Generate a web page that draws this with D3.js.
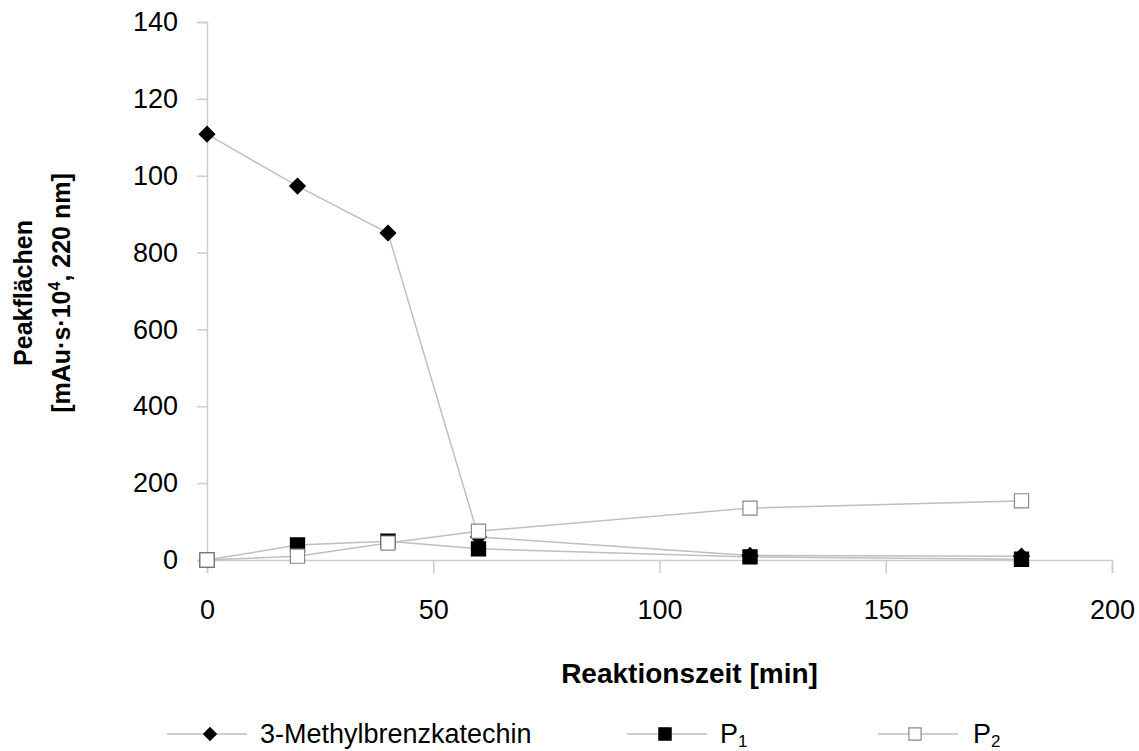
<!DOCTYPE html>
<html>
<head>
<meta charset="utf-8">
<script src="https://cdn.jsdelivr.net/npm/d3@7"></script>
<style>
  body { margin: 0; background: #fff; }
  text { font-family: "Liberation Sans", Arial, sans-serif; }
</style>
</head>
<body>
<svg id="chart" width="1139" height="751"></svg>
<script>
// Data
const times = [0, 20, 40, 60, 120, 180];
const methylValues = [1108, 973, 851, 60, 12, 10];
const p1Values = [0, 39, 49, 29, 8, 2];
const p2Values = [0, 10, 44, 75, 135, 154];
const yTicks = [0, 200, 400, 600, 800, 1000, 1200, 1400];
const yTickLabels = ["0", "200", "400", "600", "800", "100", "120", "140"];
const xTicks = [0, 50, 100, 150, 200];

const series = [
    { name: "3-Methylbrenzkatechin", values: methylValues, shape: "diamond", fill: "#000", stroke: "#000" },
    { name: "P", sub: "1", values: p1Values, shape: "square", fill: "#000", stroke: "#000" },
    { name: "P", sub: "2", values: p2Values, shape: "square", fill: "#fff", stroke: "#888" }
];

const svg = d3.select("#chart");
const margin = { top: 22, left: 207, right: 27, bottom: 191 };
const width = 1139 - margin.left - margin.right;
const height = 751 - margin.top - margin.bottom;

const x = d3.scaleLinear().domain([0, 200]).range([0, width]);
const y = d3.scaleLinear().domain([0, 1400]).range([height, 0]);

const g = svg.append("g").attr("transform", `translate(${margin.left},${margin.top})`);

// Axes
const yAxis = g.append("g")
    .call(d3.axisLeft(y).tickValues(yTicks).tickSize(10).tickPadding(19)
        .tickFormat((d, i) => yTickLabels[i]));
const xAxis = g.append("g")
    .attr("transform", `translate(0,${height})`)
    .call(d3.axisBottom(x).tickValues(xTicks).tickSize(13).tickPadding(27));

[xAxis, yAxis].forEach(a => {
    a.select(".domain").attr("stroke", "#cccccc").attr("stroke-width", 1.5);
    a.selectAll(".tick line").attr("stroke", "#cccccc").attr("stroke-width", 1.5);
    a.selectAll(".tick text").attr("font-size", 27).attr("fill", "#000")
        .style("font-family", "'Liberation Sans', Arial, sans-serif");
});

// Lines and markers
const line = d3.line()
    .x((d, i) => x(times[i]))
    .y(d => y(d));

series.forEach(s => {
    g.append("path")
        .datum(s.values)
        .attr("fill", "none")
        .attr("stroke", "#bfbfbf")
        .attr("stroke-width", 1.5)
        .attr("d", line);
});

function marker(sel, s, size) {
    sel.attr("d", d3.symbol().type(d3.symbolSquare).size(size))
        .attr("fill", s.fill)
        .attr("stroke", s.stroke)
        .attr("stroke-width", 1.2);
}

series.forEach(s => {
    const rot = s.shape === "diamond" ? " rotate(45)" : "";
    g.selectAll(null)
        .data(s.values)
        .enter()
        .append("path")
        .attr("transform", (d, i) => `translate(${x(times[i])},${y(d)})${rot}`)
        .call(marker, s, s.shape === "diamond" ? 120 : 200);
});

// Axis titles
svg.append("text")
    .attr("x", margin.left + x(100) + 30)
    .attr("y", 683)
    .attr("text-anchor", "middle")
    .attr("font-size", 28)
    .attr("font-weight", "bold")
    .text("Reaktionszeit [min]");

const yTitle = svg.append("text")
    .attr("transform", "translate(0,293) rotate(-90)")
    .attr("text-anchor", "middle")
    .attr("font-size", 25)
    .attr("font-weight", "bold");
yTitle.append("tspan").attr("x", 0).attr("y", 32).text("Peakflächen");
yTitle.append("tspan").attr("x", 0).attr("y", 70).text("[mAu·s·10")
    .append("tspan").attr("font-size", 16).attr("dy", -10).text("4")
    .select(function () { return this.parentNode; })
    .append("tspan").attr("dy", 10).text(", 220 nm]");

// Legend
const legendItems = [
    { x: 167, mark: 43, textX: 260 },
    { x: 627, mark: 38, textX: 720 },
    { x: 878, mark: 37, textX: 973 }
];
const legend = svg.append("g").attr("transform", "translate(0,734)");
series.forEach((s, i) => {
    const li = legend.append("g").attr("transform", `translate(${legendItems[i].x},0)`);
    li.append("line").attr("x1", 0).attr("x2", 80).attr("y1", 0).attr("y2", 0)
        .attr("stroke", "#bfbfbf").attr("stroke-width", 1.5);
    li.append("path")
        .attr("transform", `translate(${legendItems[i].mark},0)` + (s.shape === "diamond" ? " rotate(45)" : ""))
        .call(marker, s, s.shape === "diamond" ? 80 : 150);
    const t = legend.append("text")
        .attr("x", legendItems[i].textX)
        .attr("y", 9)
        .attr("font-size", 27)
        .text(s.name);
    if (s.sub) {
        t.append("tspan").attr("font-size", 17).attr("dy", 4).text(s.sub);
    }
});
</script>
</body>
</html>
